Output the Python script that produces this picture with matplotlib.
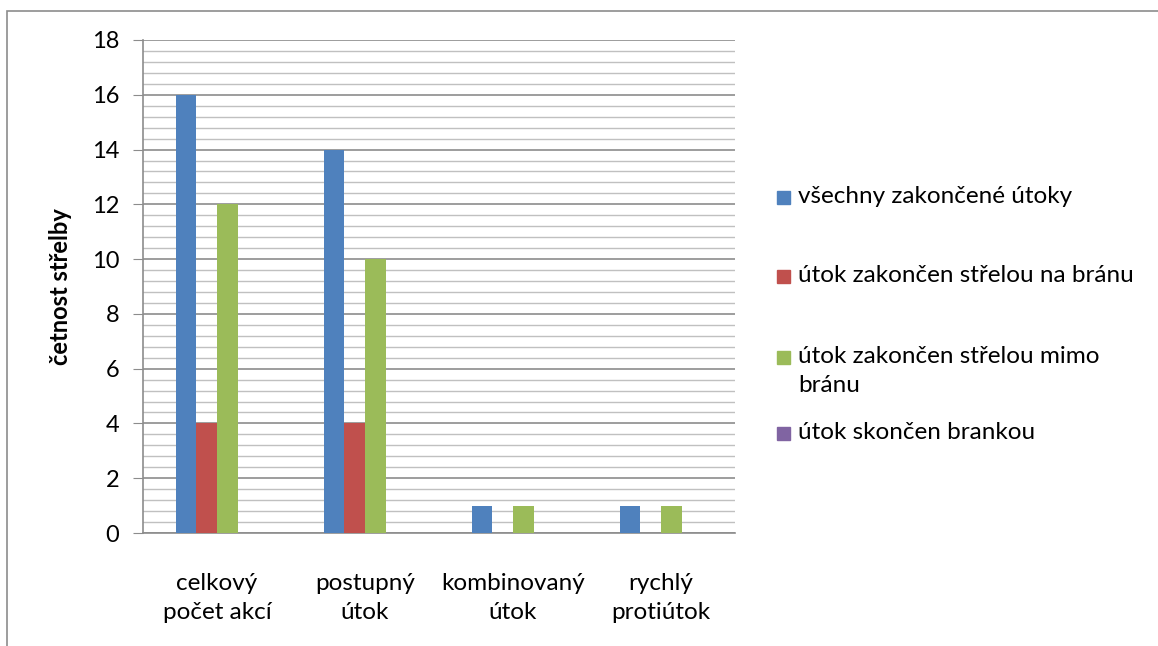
import matplotlib.pyplot as plt
import numpy as np
from matplotlib.patches import Rectangle
from matplotlib.ticker import MultipleLocator

plt.rcParams['font.family'] = ['Lato', 'DejaVu Sans']

# Data
categories = ['celkový\npočet akcí', 'postupný\nútok', 'kombinovaný\nútok', 'rychlý\nprotiútok']
series_names = ['všechny zakončené útoky',
                'útok zakončen střelou na bránu',
                'útok zakončen střelou mimo\nbránu',
                'útok skončen brankou']
vsechny = [16, 14, 1, 1]
na_branu = [4, 4, 0, 0]
mimo_branu = [12, 10, 1, 1]
brankou = [0, 0, 0, 0]
colors = ['#4F81BD', '#C0504D', '#9BBB59', '#8064A2']

fig = plt.figure(figsize=(11.58, 6.46), dpi=100)
ax = fig.add_axes([143 / 1158, 1 - 533 / 646, (735 - 143) / 1158, (533 - 40) / 646])

x = np.arange(len(categories))
w = 0.139
all_series = [vsechny, na_branu, mimo_branu, brankou]
for i, vals in enumerate(all_series):
    ax.bar(x + (i - 1.5) * w, vals, width=w, color=colors[i], zorder=3)

ax.set_xlim(-0.5, len(categories) - 0.5)
ax.set_ylim(0, 18)
ax.yaxis.set_major_locator(MultipleLocator(2))
ax.yaxis.set_minor_locator(MultipleLocator(0.4))
ax.grid(axis='y', which='major', color='#8c8c8c', linewidth=1.2, zorder=0)
ax.grid(axis='y', which='minor', color='#c0c0c0', linewidth=1.0, zorder=0)
ax.set_xticks(x)
ax.set_xticklabels(categories, fontsize=17.5, linespacing=1.45)
ax.tick_params(axis='x', length=0, pad=29)
ax.tick_params(axis='y', which='major', length=7, color='#8c8c8c', labelsize=17, pad=10)
ax.tick_params(axis='y', which='minor', length=0)
for s in ['top', 'right']:
    ax.spines[s].set_visible(False)
for s in ['left', 'bottom']:
    ax.spines[s].set_color('#8c8c8c')
    ax.spines[s].set_linewidth(1.2)

ax.set_ylabel('četnost střelby', fontsize=17, fontweight='bold', labelpad=14)

# legend drawn by hand to keep the Excel-like spacing
leg_y = [198, 277, 358, 434]
for name, col, yy in zip(series_names, colors, leg_y):
    fig.patches.append(Rectangle((777 / 1158, 1 - (yy + 6) / 646), 13 / 1158, 13 / 646,
                                 transform=fig.transFigure, color=col))
    fig.text(798 / 1158, 1 - (yy - 12) / 646, name, fontsize=17.5, va='top',
             ha='left', linespacing=1.45, transform=fig.transFigure)

# outer chart border
fig.patches.append(Rectangle((7 / 1158, -0.01), 1.2, 1 - 11 / 646 + 0.01, transform=fig.transFigure,
                             fill=False, edgecolor='#8c8c8c', linewidth=1.2))

fig.savefig('out.png', dpi=100)
